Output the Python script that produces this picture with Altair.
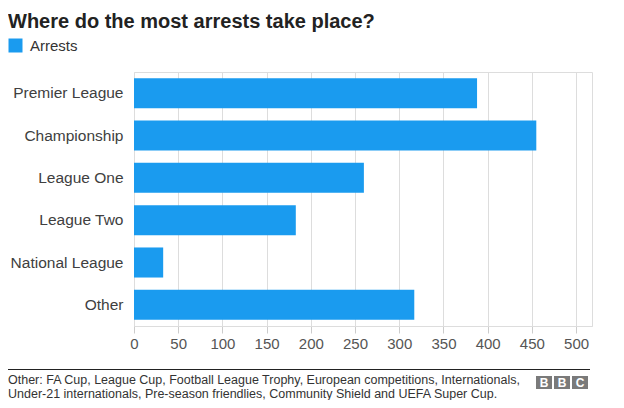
import altair as alt
import pandas as pd

categories = ["Premier League", "Championship", "League One", "League Two", "National League", "Other"]
arrests = [388, 455, 260, 183, 33, 317]
series_name = "Arrests"
x_ticks = [0, 50, 100, 150, 200, 250, 300, 350, 400, 450, 500]

title_text = "Where do the most arrests take place?"
footer_lines = [
    "Other: FA Cup, League Cup, Football League Trophy, European competitions, Internationals,",
    "Under-21 internationals, Pre-season friendlies, Community Shield and UEFA Super Cup.",
]
logo_letters = ["B", "B", "C"]

df = pd.DataFrame({"category": categories, "arrests": arrests, "series": series_name})

FONT = "Liberation Sans"
BLUE = "#1a9bef"
W, H = 458, 254

bars = alt.Chart(df).mark_bar(color=BLUE).encode(
    y=alt.Y("category:N", sort=categories, title=None,
            scale=alt.Scale(paddingInner=0.29, paddingOuter=0.145),
            axis=alt.Axis(ticks=False, domain=False, labelFontSize=15.5, labelColor="#404040",
                          labelFont=FONT, labelPadding=11, grid=False)),
    x=alt.X("arrests:Q", title=None,
            scale=alt.Scale(domain=[0, 518], nice=False),
            axis=alt.Axis(values=x_ticks, grid=True, gridColor="#dddddd", domainColor="#dddddd",
                          tickColor="#cccccc", tickSize=7, labelPadding=3, labelFontSize=15,
                          labelColor="#555555", labelFont=FONT, labelFlush=False)),
    color=alt.Color("series:N", scale=alt.Scale(range=[BLUE]),
                    legend=alt.Legend(title=None, orient="none", legendX=-126, legendY=-34,
                                      symbolType="square", symbolSize=196, symbolStrokeWidth=0,
                                      symbolOpacity=1, labelFontSize=15, labelFont=FONT,
                                      labelColor="#333333", labelOffset=7)),
)

title = alt.Chart(pd.DataFrame({"t": [title_text]})).mark_text(
    align="left", baseline="alphabetic", fontSize=20, fontWeight="bold", font=FONT, color="#222222"
).encode(text="t:N", x=alt.value(-126), y=alt.value(-44))

rule = alt.Chart(pd.DataFrame({"a": [0]})).mark_rule(color="#222222", strokeWidth=1).encode(
    x=alt.value(-126), x2=alt.value(456), y=alt.value(297.5)
)

footer = alt.Chart(pd.DataFrame({"t": [footer_lines]})).mark_text(
    align="left", baseline="alphabetic", fontSize=12.5, font=FONT, color="#333333", lineHeight=13.5
).encode(text="t:N", x=alt.value(-126), y=alt.value(312))

layers = [bars, title, rule, footer]
for i, letter in enumerate(logo_letters):
    x0 = 402 + i * 18
    box = alt.Chart(pd.DataFrame({"a": [0]})).mark_rect(color="#7a7a7a").encode(
        x=alt.value(x0), x2=alt.value(x0 + 16), y=alt.value(304), y2=alt.value(317)
    )
    txt = alt.Chart(pd.DataFrame({"t": [letter]})).mark_text(
        align="center", baseline="middle", fontSize=12, fontWeight="bold", font=FONT, color="white"
    ).encode(text="t:N", x=alt.value(x0 + 8), y=alt.value(311))
    layers += [box, txt]

chart = alt.layer(*layers).properties(
    width=W, height=H,
    autosize=alt.AutoSizeParams(type="none"),
    padding={"left": 126, "top": 64, "right": 24, "bottom": 74},
).configure_view(stroke=None).configure(background="white")

chart.save("out.html", embed_options={"renderer": "svg", "actions": False})
